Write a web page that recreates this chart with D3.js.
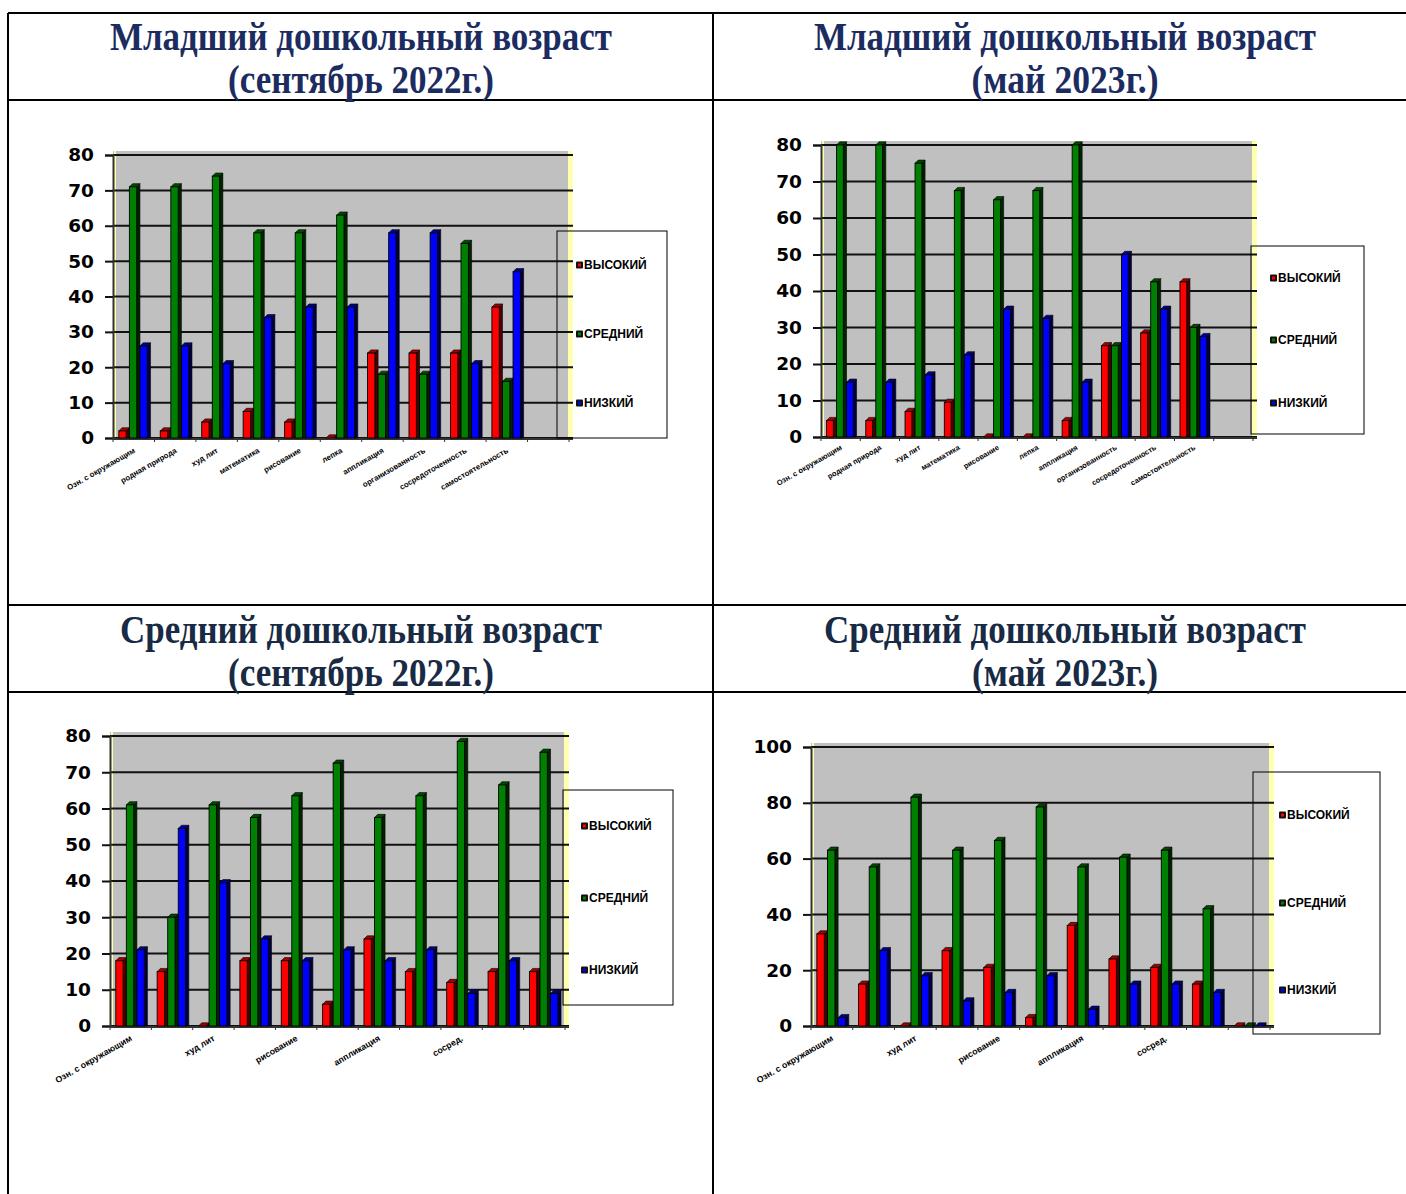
<!DOCTYPE html>
<html><head><meta charset="utf-8">
<script src="https://cdn.jsdelivr.net/npm/d3@7"></script>
<style>body{margin:0;background:#fff}svg{display:block}</style>
</head><body>
<script>
// ---------- DATA ----------
const seriesNames = ["ВЫСОКИЙ", "СРЕДНИЙ", "НИЗКИЙ"];
const seriesColors = ["#ff0000", "#008000", "#0000ff"];
const seriesSide = ["#4a0000", "#002400", "#000040"];
const seriesTop = ["#a00000", "#004a00", "#000090"];

const titleJuniorSep = ["Младший дошкольный возраст", "(сентябрь 2022г.)"];
const titleJuniorMay = ["Младший дошкольный возраст", "(май 2023г.)"];
const titleMiddleSep = ["Средний дошкольный возраст", "(сентябрь 2022г.)"];
const titleMiddleMay = ["Средний дошкольный возраст", "(май 2023г.)"];

const categoriesJunior = ["Озн. с окружающим", "родная природа", "худ лит", "математика", "рисование", "лепка",
  "аппликация", "организованность", "сосредоточенность", "самостоятельность", ""];
const categoriesMiddle = ["Озн. с окружающим", "", "худ лит", "", "рисование", "", "аппликация", "", "сосред.", "", ""];

const juniorSepHigh = [2, 2, 4.5, 7.5, 4.5, 0, 24, 24, 24, 37];
const juniorSepMid  = [71, 71, 74, 58, 58, 63, 18, 18, 55, 16];
const juniorSepLow  = [26, 26, 21, 34, 37, 37, 58, 58, 21, 47];

const juniorMayHigh = [4.5, 4.5, 7, 9.5, 0, 0, 4.5, 25, 28.5, 42.5];
const juniorMayMid  = [80, 80, 75, 67.5, 65, 67.5, 80, 25, 42.5, 30];
const juniorMayLow  = [15, 15, 17, 22.5, 35, 32.5, 15, 50, 35, 27.5];

const middleSepHigh = [18, 15, 0, 18, 18, 6, 24, 15, 12, 15, 15];
const middleSepMid  = [61, 30, 61, 57.5, 63.5, 72.5, 57.5, 63.5, 78.5, 66.5, 75.5];
const middleSepLow  = [21, 54.5, 39.5, 24, 18, 21, 18, 21, 9, 18, 9];

const middleMayHigh = [33, 15, 0, 27, 21, 3, 36, 24, 21, 15, 0];
const middleMayMid  = [63, 57, 82, 63, 66.5, 78.5, 57, 60.5, 63, 42, 0];
const middleMayLow  = [3, 27, 18, 9, 12, 18, 6, 15, 15, 12, 0];

const yTicks80 = [0, 10, 20, 30, 40, 50, 60, 70, 80];
const yTicks100 = [0, 20, 40, 60, 80, 100];

// ---------- LAYOUT ----------
const W = 1406, H = 1194;
const svg = d3.select("body").append("svg").attr("width", W).attr("height", H);

// table grid
const grid = svg.append("g").attr("stroke", "#000").attr("stroke-width", 2);
[[8, 13, 1406, 13], [8, 100, 1406, 100], [8, 605, 1406, 605], [8, 692, 1406, 692],
 [8, 13, 8, 1194], [713, 13, 713, 1194]].forEach(l =>
  grid.append("line").attr("x1", l[0]).attr("y1", l[1]).attr("x2", l[2]).attr("y2", l[3]));

function title(lines, cx, y1, widths, color) {
  lines.forEach((t, i) => {
    svg.append("text").attr("x", cx).attr("y", y1 + i * 43)
      .attr("text-anchor", "middle")
      .attr("font-family", "'Liberation Serif','Times New Roman',serif")
      .attr("font-weight", "bold").attr("font-size", 40)
      .attr("fill", color)
      .attr("textLength", widths[i]).attr("lengthAdjust", "spacingAndGlyphs")
      .text(t);
  });
}
title(titleJuniorSep, 361, 50, [502, 266], "#1c2c60");
title(titleJuniorMay, 1065, 50, [502, 187], "#1c2c60");
title(titleMiddleSep, 361, 643, [482, 266], "#182a44");
title(titleMiddleMay, 1065, 643, [482, 186], "#182a44");

function chart(cfg) {
  const g = svg.append("g");
  const n = 11;
  const x0 = d3.scaleBand().domain(d3.range(n)).range([cfg.left, cfg.right]).padding(0);
  const slot = x0.bandwidth();
  const pitch = slot * 0.255;
  const x1 = d3.scaleBand().domain([0, 1, 2]).range([slot * 0.14, slot * 0.14 + 3 * pitch]).padding(0);
  const y = d3.scaleLinear().domain([0, cfg.max]).range([cfg.bottom, cfg.top]);
  const depth = 3.2;

  // plot background
  g.append("rect").attr("x", cfg.left).attr("y", cfg.top - 4)
    .attr("width", cfg.right - cfg.left).attr("height", cfg.bottom - cfg.top + 4)
    .attr("fill", "#c0c0c0");
  g.append("rect").attr("x", cfg.right - 1).attr("y", cfg.top - 4).attr("width", 5)
    .attr("height", cfg.bottom - cfg.top + 4).attr("fill", "#ffffb0");
  g.append("line").attr("x1", cfg.left + 2).attr("x2", cfg.left + 2)
    .attr("y1", cfg.top - 4).attr("y2", cfg.bottom).attr("stroke", "#ffffb0").attr("stroke-width", 2);

  // gridlines
  g.append("g").selectAll("line").data(cfg.ticks).join("line")
    .attr("x1", cfg.left).attr("x2", cfg.right + 4)
    .attr("y1", d => y(d)).attr("y2", d => y(d))
    .attr("stroke", "#111").attr("stroke-width", 2);

  // y axis
  const ya = g.append("g").attr("transform", `translate(${cfg.left},0)`)
    .call(d3.axisLeft(y).tickValues(cfg.ticks).tickSize(8).tickPadding(11).tickFormat(d3.format("d")));
  ya.select(".domain").attr("stroke", "#333").attr("stroke-width", 2);
  ya.selectAll(".tick line").attr("stroke", "#111").attr("stroke-width", 2);
  ya.selectAll("text").attr("font-family", "'DejaVu Sans',sans-serif").attr("font-weight", "bold")
    .attr("font-size", 18.5).attr("fill", "#000");

  // x axis line and ticks
  g.append("line").attr("x1", cfg.left).attr("x2", cfg.right + 4)
    .attr("y1", cfg.bottom + 1).attr("y2", cfg.bottom + 1).attr("stroke", "#333").attr("stroke-width", 2);
  g.append("g").selectAll("line").data(d3.range(n + 1)).join("line")
    .attr("x1", i => cfg.left + i * slot).attr("x2", i => cfg.left + i * slot)
    .attr("y1", cfg.bottom).attr("y2", cfg.bottom + 4).attr("stroke", "#333").attr("stroke-width", 1);

  // bars
  const series = [cfg.high, cfg.mid, cfg.low];
  const bars = g.append("g");
  for (let i = 0; i < n; i++) {
    for (let s = 0; s < 3; s++) {
      const v = series[s][i];
      if (v === undefined || v === null) continue;
      const bx = x0(i) + x1(s);
      const w = pitch - depth;
      const yt = y(v), yb = y(0);
      bars.append("polygon")
        .attr("points", [[bx + w, yt], [bx + w + depth, yt - depth], [bx + w + depth, yb], [bx + w, yb]].join(" "))
        .attr("fill", seriesSide[s]).attr("stroke", "#000").attr("stroke-width", 0.6);
      bars.append("polygon")
        .attr("points", [[bx, yt], [bx + depth, yt - depth], [bx + w + depth, yt - depth], [bx + w, yt]].join(" "))
        .attr("fill", seriesTop[s]).attr("stroke", "#000").attr("stroke-width", 0.6);
      bars.append("rect").attr("x", bx).attr("y", yt).attr("width", w).attr("height", yb - yt)
        .attr("fill", seriesColors[s]).attr("stroke", "#000").attr("stroke-width", 0.9);
    }
  }

  // category labels
  g.append("g").selectAll("text").data(cfg.categories).join("text")
    .attr("transform", (d, i) => `translate(${x0(i) + slot / 2 + 2},${cfg.bottom + cfg.labelDy}) rotate(-30)`)
    .attr("text-anchor", "end")
    .attr("font-family", "'Liberation Sans',Arial,sans-serif").attr("font-weight", "bold")
    .attr("font-size", cfg.labelSize).attr("fill", "#000")
    .text(d => d);

  // legend (transparent box)
  const lg = cfg.legend;
  g.append("rect").attr("x", lg.x).attr("y", lg.y).attr("width", lg.w).attr("height", lg.h)
    .attr("fill", "none").attr("stroke", "#000").attr("stroke-width", 1);
  seriesNames.forEach((name, s) => {
    const cy = lg.items[s];
    g.append("rect").attr("x", lg.mx).attr("y", cy - 3.5).attr("width", 7).attr("height", 7)
      .attr("rx", 1).attr("fill", "#111");
    g.append("rect").attr("x", lg.mx + 2).attr("y", cy - 1.5).attr("width", 3).attr("height", 3)
      .attr("fill", seriesColors[s]);
    g.append("text").attr("x", lg.mx + 8).attr("y", cy + 4)
      .attr("font-family", "'Liberation Sans',Arial,sans-serif").attr("font-weight", "bold")
      .attr("font-size", 12).attr("fill", "#000").text(name);
  });
}

chart({left: 113, right: 569, top: 155, bottom: 438, max: 80, ticks: yTicks80,
  high: juniorSepHigh, mid: juniorSepMid, low: juniorSepLow, categories: categoriesJunior,
  labelSize: 7.8, labelDy: 14,
  legend: {x: 557, y: 231, w: 110, h: 207, mx: 576, items: [265, 334, 403]}});

chart({left: 821, right: 1253, top: 145, bottom: 437, max: 80, ticks: yTicks80,
  high: juniorMayHigh, mid: juniorMayMid, low: juniorMayLow, categories: categoriesJunior,
  labelSize: 7.5, labelDy: 12,
  legend: {x: 1251, y: 246, w: 113, h: 188, mx: 1270, items: [278, 340, 403]}});

chart({left: 110, right: 565, top: 736, bottom: 1026, max: 80, ticks: yTicks80,
  high: middleSepHigh, mid: middleSepMid, low: middleSepLow, categories: categoriesMiddle,
  labelSize: 8.8, labelDy: 14,
  legend: {x: 563, y: 790, w: 110, h: 215, mx: 581, items: [826, 898, 970]}});

chart({left: 811, right: 1270, top: 747, bottom: 1026, max: 100, ticks: yTicks100,
  high: middleMayHigh, mid: middleMayMid, low: middleMayLow, categories: categoriesMiddle,
  labelSize: 8.8, labelDy: 14,
  legend: {x: 1253, y: 772, w: 127, h: 262, mx: 1279, items: [815, 903, 990]}});
</script>
</body></html>
